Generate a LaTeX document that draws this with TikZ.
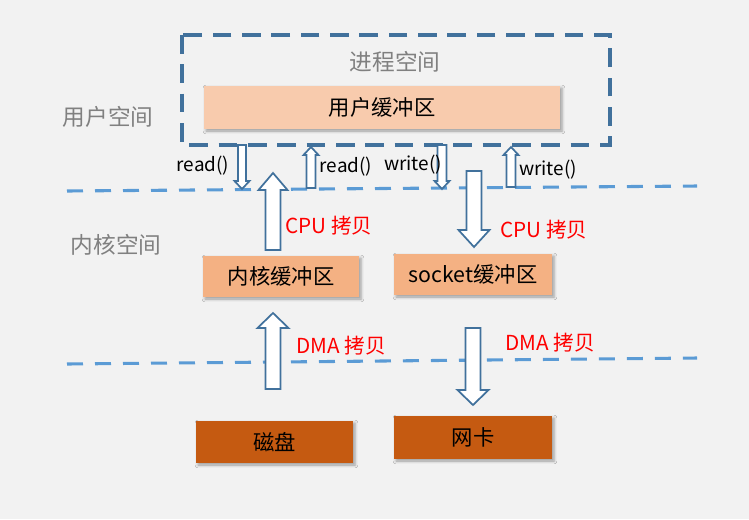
\documentclass[tikz,border=0pt]{standalone}
\usepackage{fontspec}
\setmainfont{Noto Sans CJK SC}
\usetikzlibrary{shadows.blur}
\definecolor{bgc}{HTML}{F2F2F2}
\definecolor{ubfill}{HTML}{F8CBAD}
\definecolor{kbfill}{HTML}{F4B183}
\definecolor{hwfill}{HTML}{C55A11}
\definecolor{darkblue}{HTML}{41719C}
\definecolor{lightblue}{HTML}{5B9BD5}
\definecolor{graytext}{HTML}{808080}
\tikzset{
  buf/.style={rectangle, inner sep=0pt, font=\fontsize{16}{18}\selectfont,
    blur shadow={shadow xshift=1.5pt, shadow yshift=-1.5pt, shadow blur steps=4, shadow opacity=35}},
  barr/.style={draw=darkblue, fill=white, line width=1.3pt, line join=miter},
  sep/.style={draw=lightblue, line width=2.3pt, dash pattern=on 12pt off 9pt},
  region/.style={text=graytext, font=\fontsize{17}{20}\selectfont},
  fn/.style={font=\fontsize{14.2}{16}\selectfont},
  cp/.style={text=red, font=\fontsize{15.5}{18}\selectfont},
}
\newcommand\barrow[6]{%
  \draw[barr] ({#1-#5},#2) -- ({#1-#5},#3) -- ({#1-#6},#3) -- (#1,#4) -- ({#1+#6},#3) -- ({#1+#5},#3) -- ({#1+#5},#2) -- cycle;}
\begin{document}
\begin{tikzpicture}[x=0.75pt,y=-0.75pt]
\fill[bgc] (0,0) rectangle (749,519);
\useasboundingbox (0,0) rectangle (749,519);
% separators
\coordinate (l1a) at (67,191); \coordinate (l1b) at (697,186);
\coordinate (l2a) at (67,364); \coordinate (l2b) at (697,358);
\draw[sep] (l1a) -- (l1b);
\draw[sep] (l2a) -- (l2b);
% process space box
\draw[draw=darkblue, line width=2.3pt, dash pattern=on 14pt off 8pt] (182,35) rectangle (610,145);
\node[region] (ps) at (395,62) {进程空间};
\node[region] (us) at (108,117) {用户空间};
\node[region] (ks) at (116,245) {内核空间};
% buffers
\node[buf, fill=ubfill, minimum width=267pt, minimum height=32.25pt] (ub) at (382,107.5) {用户缓冲区};
\node[buf, fill=kbfill, minimum width=117pt, minimum height=30.75pt] (kb) at (281,276.5) {内核缓冲区};
\node[buf, fill=kbfill, minimum width=118.5pt, minimum height=30.75pt] (sb) at (473,274.5) {socket缓冲区};
\node[buf, fill=hwfill, minimum width=117.75pt, minimum height=31.5pt] (disk) at (274.5,442) {磁盘};
\node[buf, fill=hwfill, minimum width=118.5pt, minimum height=32.25pt] (nic) at (473,437.5) {网卡};
% arrows
\barrow{242}{145}{181}{189}{4}{7.5}
\barrow{311}{188}{155}{147}{4.5}{7.5}
\barrow{442}{145}{181}{189}{4.5}{7.5}
\barrow{511}{187}{155}{147}{4.5}{7.5}
\barrow{273}{250}{190}{173}{7.5}{14.5}
\barrow{474}{171}{230}{247}{7.5}{15.5}
\barrow{273}{389}{328}{313}{7.5}{15.5}
\barrow{473}{328}{390}{405}{7.5}{15.5}
% labels
\node[fn] (r1) at (203,166) {read()};
\node[fn] (r2) at (346,167) {read()};
\node[fn] (w1) at (413,165) {write()};
\node[fn] (w2) at (548,170) {write()};
\node[cp] (c1) at (329,226) {CPU 拷贝};
\node[cp] (c2) at (544,230) {CPU 拷贝};
\node[cp] (d1) at (341,346) {DMA 拷贝};
\node[cp] (d2) at (550,343) {DMA 拷贝};
\end{tikzpicture}
\end{document}
